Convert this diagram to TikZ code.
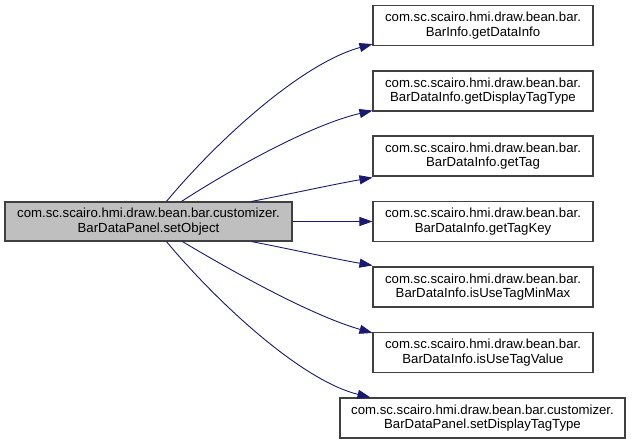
\documentclass[tikz,border=0pt]{standalone}
\usepackage{fontspec}
\setmainfont{Liberation Sans}
\usetikzlibrary{arrows.meta}
\definecolor{edgeblue}{RGB}{25,25,112}
\definecolor{boxline}{RGB}{64,64,64}
\definecolor{mainfill}{RGB}{191,191,191}
\begin{document}
\begin{tikzpicture}[x=1pt,y=-1pt,
  fn/.style={draw=boxline,line width=1.1pt,fill=white,inner sep=0pt,align=center,
    font=\fontsize{13.2}{14.5}\selectfont,minimum height=40pt,minimum width=220pt},
  mainbox/.style={fn,fill=mainfill,minimum width=287pt,minimum height=39pt},
  call/.style={draw=edgeblue,line width=0.9pt,-{Triangle[length=13pt,width=9pt]},fill=none},
]
\useasboundingbox (0,0) rectangle (632,444);
\fill[white] (0,0) rectangle (632,444);
\node[mainbox] (m) at (148.5,221.5) {com.sc.scairo.hmi.draw.bean.bar.customizer.\\BarDataPanel.setObject};
\node[fn] (b1) at (483,25.5) {com.sc.scairo.hmi.draw.bean.bar.\\BarInfo.getDataInfo};
\node[fn] (b2) at (483,91) {com.sc.scairo.hmi.draw.bean.bar.\\BarDataInfo.getDisplayTagType};
\node[fn] (b3) at (483,156) {com.sc.scairo.hmi.draw.bean.bar.\\BarDataInfo.getTag};
\node[fn] (b4) at (483,221.5) {com.sc.scairo.hmi.draw.bean.bar.\\BarDataInfo.getTagKey};
\node[fn] (b5) at (483,287) {com.sc.scairo.hmi.draw.bean.bar.\\BarDataInfo.isUseTagMinMax};
\node[fn] (b6) at (483,352.5) {com.sc.scairo.hmi.draw.bean.bar.\\BarDataInfo.isUseTagValue};
\node[fn,minimum width=285pt] (b7) at (482.5,418) {com.sc.scairo.hmi.draw.bean.bar.customizer.\\BarDataPanel.setDisplayTagType};

\draw[call] ([xshift=162pt]m.north west) .. controls (215,143) and (300,64) .. ([yshift=2pt]b1.south west);
\draw[call] ([xshift=177pt]m.north west) .. controls (230,170) and (310,125) .. ([yshift=1pt]b2.south west);
\draw[call] ([xshift=247pt]m.north west) .. controls (290,194) and (330,185) .. ([yshift=-1pt]b3.south west);
\draw[call] (m.east) -- (b4.west);
\draw[call] ([xshift=247pt]m.south west) .. controls (290,249) and (330,258) .. ([yshift=1pt]b5.north west);
\draw[call] ([xshift=178pt]m.south west) .. controls (230,270) and (310,315) .. ([yshift=-1pt]b6.north west);
\draw[call] ([xshift=162pt]m.south west) .. controls (215,300) and (300,380) .. ([xshift=31pt]b7.north west);
\end{tikzpicture}
\end{document}
